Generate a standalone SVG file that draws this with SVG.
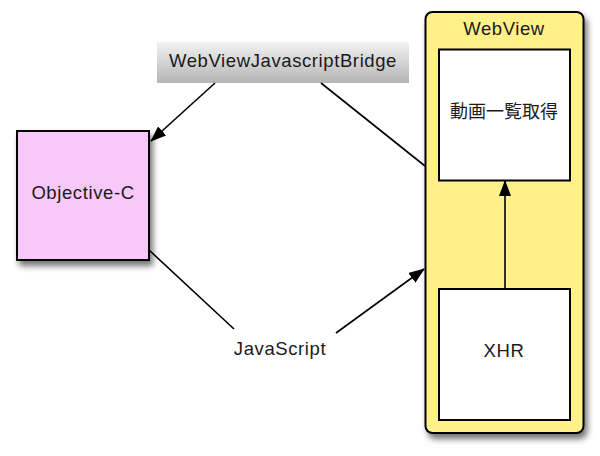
<svg xmlns="http://www.w3.org/2000/svg" width="600" height="456" viewBox="0 0 600 456">
<style>
text{font-family:"Liberation Sans","Noto Sans CJK JP",sans-serif;font-size:18.5px;letter-spacing:0.6px;fill:#1a1a1a;text-anchor:middle}
text.cjk{font-family:"Noto Sans CJK JP",sans-serif;font-size:18px;letter-spacing:0}
.box{stroke:#000;stroke-width:2}
.conn{fill:none;stroke:#000;stroke-width:1.6}
</style>
<defs>
<filter id="sh" x="-20%" y="-20%" width="150%" height="150%">
<feGaussianBlur in="SourceAlpha" stdDeviation="3"/>
<feOffset dx="3" dy="5" result="b"/>
<feComponentTransfer><feFuncA type="linear" slope="0.55"/></feComponentTransfer>
<feMerge><feMergeNode/><feMergeNode in="SourceGraphic"/></feMerge>
</filter>
<linearGradient id="g" x1="0" y1="0" x2="0" y2="1">
<stop offset="0" stop-color="#f2f2f2"/>
<stop offset="1" stop-color="#b5b5b5"/>
</linearGradient>
<marker id="ah2" markerWidth="16" markerHeight="12" refX="15" refY="6" orient="auto" markerUnits="userSpaceOnUse" viewBox="0 0 16 12">
<path d="M0,0 L16,6 L0,12 z" fill="#000"/>
</marker>
</defs>
<g id="webview">
<rect class="box" x="425.5" y="12" width="158" height="421" rx="7" fill="#fff08a" filter="url(#sh)"/>
<text x="504" y="35">WebView</text>
</g>
<g id="douga">
<rect class="box" x="439" y="49.5" width="131" height="131" fill="#fff"/>
<text class="cjk" x="504" y="118">動画一覧取得</text>
</g>
<g id="xhr">
<rect class="box" x="439" y="289" width="131" height="131" fill="#fff"/>
<text x="504" y="357">XHR</text>
</g>
<g id="objc">
<rect class="box" x="17" y="131" width="132" height="129" fill="#f8c8fb" filter="url(#sh)"/>
<text x="83" y="199">Objective-C</text>
</g>
<g id="bridge">
<rect x="157" y="42" width="252" height="41" fill="url(#g)"/>
<text x="283" y="67">WebViewJavascriptBridge</text>
</g>
<g id="jslabel">
<text x="280" y="355">JavaScript</text>
</g>
<g id="connectors">
<path class="conn" d="M215,83 L151,141" marker-end="url(#ah2)"/>
<path class="conn" d="M321,83 L425,166"/>
<path class="conn" d="M149,250 L234,329"/>
<path class="conn" d="M336,333 L424,269" marker-end="url(#ah2)"/>
<path class="conn" d="M505,289 L505,181" marker-end="url(#ah2)"/>
</g>
</svg>
